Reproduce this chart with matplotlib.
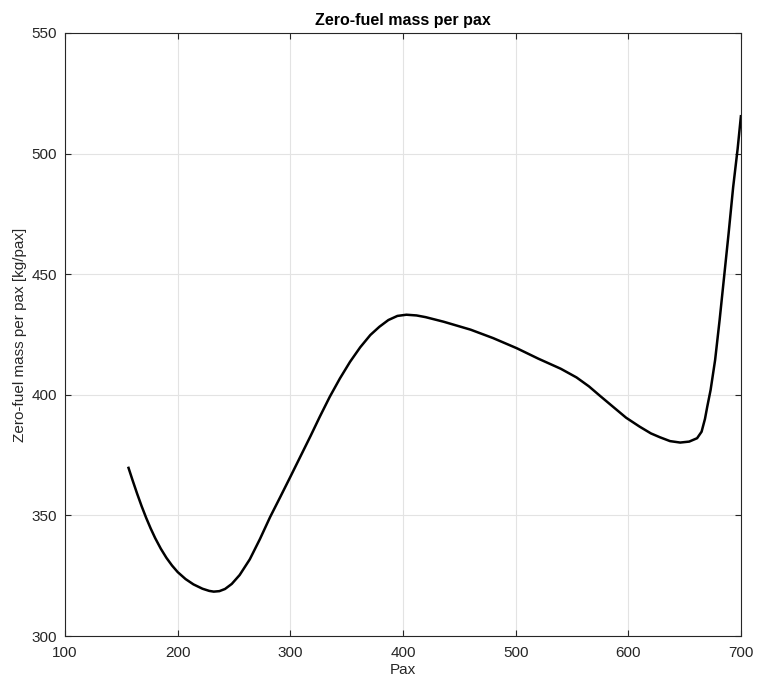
import numpy as np
import matplotlib
matplotlib.use('Agg')
import matplotlib.pyplot as plt

# values
pax = [156, 160, 164, 168, 172, 176, 180, 185, 190, 195, 200, 207, 214, 222,
       228, 232, 237, 242, 248, 255, 264, 273, 282, 291, 300, 309, 318, 326,
       335, 344, 353, 362, 371, 379, 387, 395, 403, 412, 420, 436, 460, 480,
       501, 520, 540, 554, 565, 575, 587, 598, 610, 620, 628, 637, 646, 654,
       661, 665, 668, 670, 673, 677, 681, 685, 689, 693, 697, 700]
mass = [370.2, 364.5, 359, 353.8, 349, 344.6, 340.6, 336.2, 332.4, 329.2,
        326.5, 323.6, 321.4, 319.6, 318.7, 318.4, 318.6, 319.5, 321.6, 325.3,
        331.8, 340.2, 349.3, 357.6, 366, 374.5, 383, 390.8, 399.2, 406.8,
        413.7, 419.7, 424.8, 428.2, 431, 432.7, 433.2, 432.9, 432.2, 430.3,
        427, 423.5, 419.3, 415, 410.8, 407.2, 403.5, 399.5, 394.8, 390.5,
        386.8, 384, 382.4, 380.8, 380.2, 380.6, 382, 384.7, 390, 395, 402,
        414.4, 431, 449, 467, 486, 502, 516]
xticks = [100, 200, 300, 400, 500, 600, 700]
yticks = [300, 350, 400, 450, 500, 550]

plt.rcParams['font.family'] = ['Liberation Sans', 'DejaVu Sans']

fig = plt.figure(figsize=(7.58, 6.83), dpi=100)
ax = fig.add_axes([0.0858, 0.0688, 0.8918, 0.8829])
ax.plot(pax, mass, color='black', lw=1.8, solid_joinstyle='round',
        solid_capstyle='butt')

ax.set_xlim(100, 700)
ax.set_ylim(300, 550)
ax.set_xticks(xticks)
ax.set_yticks(yticks)
ax.grid(True, color='#e3e3e3', lw=0.8)
ax.set_axisbelow(True)
ax.tick_params(direction='in', top=True, right=True, labelsize=11,
               colors='#262626', length=4, width=0.8)
ax.tick_params(axis='y', pad=6)
ax.tick_params(axis='x', pad=7)
for s in ax.spines.values():
    s.set_color('#262626')
    s.set_linewidth(0.8)

ax.set_xlabel('Pax', fontsize=11, color='#262626', labelpad=2)
ax.set_ylabel('Zero-fuel mass per pax [kg/pax]', fontsize=11, color='#262626',
              labelpad=3)
ax.set_title('Zero-fuel mass per pax', fontsize=11.5, fontweight='bold', pad=6)

fig.savefig('out.png', dpi=100)
